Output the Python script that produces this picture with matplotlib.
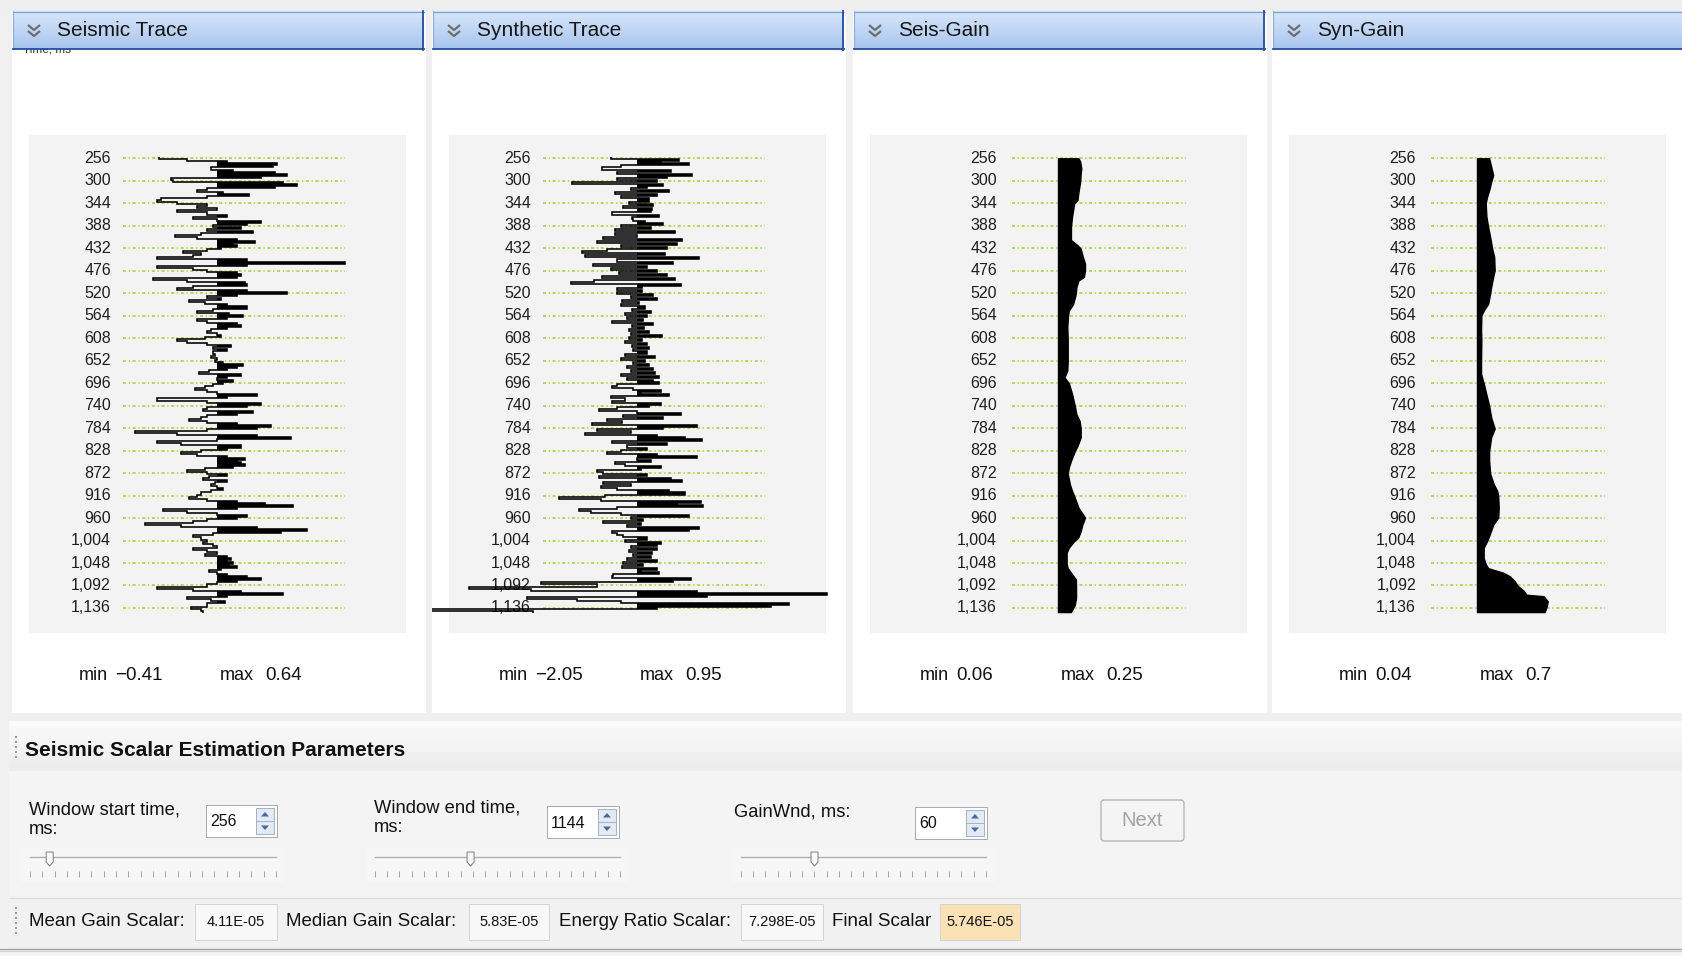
import numpy as np
import matplotlib
matplotlib.use("Agg")
import matplotlib.pyplot as plt
from matplotlib.colors import to_rgb
from matplotlib.patches import Rectangle, FancyBboxPatch, Polygon

plt.rcParams['font.family'] = ['Liberation Sans', 'DejaVu Sans']

# ---------------------------------------------------------------- data
SAMPLE_START_MS = 256
SAMPLE_STEP_MS = 4

seismic_trace = [
    -0.29, -0.15, 0.05, 0.30, 0.28, -0.03, 0.08, 0.29, 0.35, 0.22,
    -0.23, -0.22, 0.33, 0.40, 0.29, -0.05, -0.10, 0.03, 0.16, -0.05,
    -0.28, -0.30, -0.20, -0.05, -0.10, 0.00, -0.20, -0.05, 0.05, -0.12,
    0.00, 0.22, 0.15, -0.02, 0.12, -0.05, 0.18, -0.08, -0.21, -0.10,
    0.10, 0.19, 0.08, 0.10, 0.02, -0.05, -0.17, -0.08, -0.12, -0.30,
    0.15, 0.64, 0.15, -0.30, -0.12, -0.05, 0.10, 0.12, 0.10, -0.32,
    -0.15, 0.14, 0.15, -0.12, -0.20, 0.15, 0.35, 0.10, -0.05, 0.02,
    -0.14, -0.06, 0.05, 0.15, -0.02, -0.10, 0.06, 0.13, 0.05, -0.10,
    -0.05, 0.10, 0.12, 0.05, -0.03, -0.05, 0.00, 0.02, -0.06, -0.20,
    -0.15, -0.05, 0.07, -0.02, 0.05, -0.02, -0.01, -0.03, 0.00, -0.01,
    0.03, 0.13, 0.10, 0.05, -0.04, -0.09, 0.12, 0.05, 0.00, 0.08,
    0.03, -0.02, -0.06, -0.11, -0.05, 0.00, 0.20, 0.05, -0.30, -0.05,
    0.22, 0.15, -0.05, -0.07, 0.18, 0.10, -0.05, -0.08, -0.14, -0.05,
    0.10, 0.27, 0.20, -0.05, -0.41, -0.20, 0.20, 0.37, 0.00, -0.30,
    -0.18, 0.12, 0.05, -0.08, -0.18, -0.10, 0.05, 0.14, 0.10, 0.12,
    0.14, 0.08, -0.06, -0.15, -0.05, 0.05, -0.04, -0.07, 0.05, -0.01,
    -0.03, 0.00, 0.03, -0.03, -0.08, -0.10, -0.14, -0.05, 0.10, 0.24,
    0.38, 0.10, -0.27, -0.15, 0.00, 0.15, 0.10, -0.05, -0.12, -0.36,
    -0.18, 0.20, 0.45, 0.32, -0.02, -0.12, -0.08, -0.05, -0.07, -0.02,
    0.00, -0.12, -0.05, 0.00, -0.06, 0.05, 0.07, 0.05, 0.08, 0.06,
    0.10, 0.02, -0.04, 0.00, 0.05, 0.15, 0.22, 0.10, 0.00, -0.05,
    -0.30, -0.12, 0.12, 0.33, 0.05, -0.15, -0.03, 0.04, -0.05, -0.05,
    -0.13, -0.08, -0.07,
]

synthetic_trace = [
    -0.13, 0.21, 0.12, 0.26, -0.08, -0.175, 0.17, -0.10, 0.275, 0.15,
    -0.10, 0.10, -0.325, 0.13, 0.05, -0.03, 0.16, -0.11, 0.10, -0.08,
    0.06, 0.06, -0.04, 0.08, -0.07, 0.075, 0.07, -0.125, 0.11, -0.025,
    -0.02, 0.04, 0.13, -0.08, 0.07, -0.11, 0.19, -0.11, 0.00, -0.17,
    0.225, -0.20, 0.20, -0.08, 0.15, -0.15, -0.275, 0.14, -0.26, 0.31,
    -0.10, 0.18, -0.22, 0.05, -0.13, 0.10, -0.09, 0.15, -0.175, 0.19,
    -0.215, -0.33, 0.22, 0.025, -0.10, 0.025, -0.10, 0.08, -0.03, 0.10,
    -0.075, 0.01, -0.08, 0.04, -0.025, 0.07, -0.06, 0.05, -0.05, 0.03,
    -0.125, 0.08, -0.025, 0.035, -0.04, 0.06, -0.03, 0.125, -0.04, 0.025,
    -0.06, 0.05, -0.025, 0.06, -0.02, 0.05, -0.06, 0.09, -0.08, 0.04,
    -0.02, 0.06, -0.05, 0.08, -0.03, 0.09, -0.08, 0.11, -0.05, 0.08,
    0.11, -0.10, -0.125, -0.02, 0.12, 0.02, 0.16, -0.13, -0.06, -0.125,
    0.12, 0.06, -0.10, -0.19, 0.00, 0.22, -0.07, 0.13, -0.15, -0.075,
    -0.225, 0.30, 0.13, -0.20, -0.03, -0.26, 0.10, 0.24, 0.325, -0.125,
    0.15, -0.05, 0.05, -0.08, -0.15, 0.10, 0.30, 0.00, 0.07, -0.11,
    -0.06, 0.12, 0.02, -0.20, -0.17, 0.05, -0.19, 0.17, 0.225, -0.17,
    -0.03, -0.18, -0.10, 0.16, 0.24, -0.16, -0.39, -0.18, 0.32, 0.20,
    0.33, -0.10, -0.29, -0.23, -0.08, 0.26, -0.03, 0.03, -0.17, 0.02,
    -0.05, 0.31, 0.26, -0.125, -0.10, -0.07, 0.05, -0.06, 0.12, 0.10,
    -0.03, 0.10, -0.04, 0.075, -0.02, 0.07, -0.05, 0.10, -0.07, 0.03,
    -0.075, 0.10, 0.02, 0.11, -0.12, -0.125, 0.27, 0.18, -0.48, -0.20,
    -0.84, -0.53, 0.30, 0.95, 0.35, -0.55, -0.30, -0.08, 0.76, 0.67,
    0.10, -2.05, -0.52,
]

seis_gain_ms = [256, 262, 276, 285, 302, 321, 338, 344, 370, 390, 416, 426, 433,
                449, 462, 475, 488, 495, 508, 521, 541, 554, 564, 586, 609, 632,
                652, 671, 685, 696, 717, 740, 757, 770, 785, 802, 819, 829, 848,
                861, 873, 894, 907, 917, 940, 959, 973, 986, 999, 1005, 1018, 1028,
                1050, 1058, 1070, 1080, 1092, 1116, 1130, 1144]
seis_gain = [0.19, 0.205, 0.216, 0.21, 0.205, 0.19, 0.18, 0.15, 0.13, 0.12, 0.12, 0.18, 0.21,
             0.23, 0.25, 0.25, 0.24, 0.19, 0.17, 0.165, 0.14, 0.10, 0.093, 0.086, 0.09, 0.09,
             0.09, 0.086, 0.06, 0.10, 0.13, 0.155, 0.17, 0.20, 0.21, 0.21, 0.18, 0.155, 0.12,
             0.10, 0.09, 0.11, 0.13, 0.15, 0.19, 0.25, 0.225, 0.21, 0.185, 0.15, 0.10, 0.08,
             0.08, 0.09, 0.13, 0.165, 0.167, 0.167, 0.155, 0.12]

syn_gain_ms = [256, 272, 289, 302, 315, 331, 344, 370, 390, 410, 433, 449, 475, 488,
               508, 521, 541, 554, 564, 593, 609, 652, 678, 696, 724, 740, 763, 785,
               802, 829, 848, 873, 894, 907, 917, 940, 959, 973, 992, 1005, 1018, 1038,
               1050, 1058, 1067, 1074, 1084, 1092, 1102, 1110, 1113, 1123, 1133, 1144]
syn_gain = [0.12, 0.14, 0.16, 0.14, 0.125, 0.10, 0.086, 0.093, 0.11, 0.13, 0.15, 0.17, 0.175, 0.16,
            0.14, 0.13, 0.11, 0.066, 0.043, 0.04, 0.043, 0.04, 0.04, 0.066, 0.10, 0.12, 0.14, 0.175,
            0.14, 0.12, 0.12, 0.13, 0.166, 0.20, 0.21, 0.215, 0.21, 0.16, 0.126, 0.10, 0.066, 0.066,
            0.086, 0.11, 0.26, 0.325, 0.375, 0.40, 0.46, 0.49, 0.66, 0.70, 0.69, 0.67]

time_ticks = [256, 300, 344, 388, 432, 476, 520, 564, 608, 652, 696,
              740, 784, 828, 872, 916, 960, 1004, 1048, 1092, 1136]

panel_titles = ["Seismic Trace", "Synthetic Trace", "Seis-Gain", "Syn-Gain"]
param_labels = [["Window start time,", "ms:"], ["Window end time,", "ms:"], ["GainWnd, ms:"]]
param_values = ["256", "1144", "60"]
scalar_labels = ["Mean Gain Scalar:", "Median Gain Scalar:", "Energy Ratio Scalar:", "Final Scalar"]
scalar_values = ["4.11E-05", "5.83E-05", "7.298E-05", "5.746E-05"]

# ---------------------------------------------------------------- layout (pixels)
W, H, DPI = 1682, 956, 100
PT = 72.0 / DPI                       # points per pixel

HEADER_L = [13, 433, 854, 1273]
HEADER_W = 411
BODY_X = [(12, 426), (432, 846), (853, 1267), (1272, 1682)]
PLOT_TOP, PLOT_BOT = 135, 633
Y_REF, MS_REF, PX_PER_MS = 158.3, 256, 0.511
AMP_SCALE = [200, 200, 108, 101]      # pixels per amplitude unit
LABEL_OFF = [82, 82, 127, 127]
GRID_OFF = [94, 94, 142, 142]
GRID_END = 316
ZERO_OFF = 188

fig = plt.figure(figsize=(W / DPI, H / DPI), dpi=DPI, facecolor='#F0F0F0')
ui = fig.add_axes([0, 0, 1, 1])
ui.set_xlim(0, W)
ui.set_ylim(H, 0)
ui.axis('off')


def gradient(ax, x0, y0, x1, y1, c_top, c_bot, z=1):
    a, b = np.array(to_rgb(c_top)), np.array(to_rgb(c_bot))
    g = np.linspace(0, 1, 64)[:, None, None]
    ax.imshow(a * (1 - g) + b * g, extent=(x0, x1, y1, y0), aspect='auto',
              interpolation='bilinear', zorder=z)


def rect(x0, y0, x1, y1, fc, ec='none', lw=1.0, z=1):
    ui.add_patch(Rectangle((x0, y0), x1 - x0, y1 - y0, fc=fc, ec=ec, lw=lw * PT, zorder=z))


def grip(x, y0, n):
    for i in range(n):
        rect(x, y0 + i * 5, x + 2, y0 + i * 5 + 2, '#9A9A9A', z=3)


def fmt(v):
    txt = f"{abs(v):.2f}".rstrip('0').rstrip('.')
    return ("\u2212" if v < 0 else "") + txt


# ---------------------------------------------------------------- trace panels
rect(0, 0, W, 11, '#EFEFEF', z=0)
for i, title in enumerate(panel_titles):
    bx0, bx1 = BODY_X[i]
    hl = HEADER_L[i]
    rect(bx0, 11, bx1, 713, 'white', z=1)
    gl = hl + 16
    rect(gl, PLOT_TOP, gl + 377, PLOT_BOT, '#F3F3F3', z=1.5)
    if i == 0:
        ui.text(23, 55, "Time, ms", fontsize=8.5, color='#333333', va='bottom', ha='left', zorder=1.8)
    hr = min(hl + HEADER_W, W + 3)
    gradient(ui, hl, 11, hr, 49, '#D7E6FA', '#A8C5EF', z=2)
    ui.plot([hl, hr], [11.5, 11.5], color='#7DA0D8', lw=1.2 * PT, zorder=3)
    ui.plot([hl + 0.5, hl + 0.5], [11, 49], color='#8AACDF', lw=1.2 * PT, zorder=3)
    ui.plot([hl, hr], [48.8, 48.8], color='#254C9C', lw=1.8 * PT, zorder=3)
    ui.plot([hr - 0.8, hr - 0.8], [11, 49.5], color='#254C9C', lw=1.8 * PT, zorder=3)
    for dy in (0, 6):
        ui.plot([hl + 15, hl + 21, hl + 27], [25 + dy, 30 + dy, 25 + dy],
                color='#6E6E6E', lw=2.2 * PT, zorder=4, solid_capstyle='butt')
    ui.text(hl + 44, 30, title, fontsize=15, color='#151515', va='center', ha='left', zorder=4)

    # axes for the curve, in amplitude / milliseconds
    ax = fig.add_axes([bx0 / W, 1 - PLOT_BOT / H, (bx1 - bx0) / W, (PLOT_BOT - PLOT_TOP) / H])
    ax.set_facecolor('none')
    ax.axis('off')
    zero = gl + ZERO_OFF
    s = AMP_SCALE[i]
    ax.set_xlim((bx0 - zero) / s, (bx1 - zero) / s)
    ax.set_ylim(MS_REF + (PLOT_BOT - Y_REF) / PX_PER_MS, MS_REF + (PLOT_TOP - Y_REF) / PX_PER_MS)

    g0 = (gl + GRID_OFF[i] - zero) / s
    g1 = (gl + GRID_END - zero) / s
    ax.hlines(time_ticks, g0, g1, colors='#9CD23A', linewidth=1.1,
              linestyles=[(0, (2.0, 1.7, 0.9, 1.7))], zorder=2)
    lx = (gl + LABEL_OFF[i] - zero) / s
    for t in time_ticks:
        ax.text(lx, t, f"{t:,}", fontsize=11.5, color='#1E1E1E', ha='right', va='center', zorder=3)

    if i < 2:
        amp = np.array(seismic_trace if i == 0 else synthetic_trace)
        ms = SAMPLE_START_MS + SAMPLE_STEP_MS * np.arange(len(amp))
        edges = np.append(ms - SAMPLE_STEP_MS / 2, ms[-1] + SAMPLE_STEP_MS / 2)
        ax.stairs(np.clip(amp, 0, None), edges, orientation='horizontal', baseline=0,
                  fill=True, color='black', zorder=5)
        ax.stairs(amp, edges, orientation='horizontal', baseline=None,
                  color='black', lw=1.15, zorder=6)
    else:
        amp = np.array(seis_gain if i == 2 else syn_gain)
        ms = np.array(seis_gain_ms if i == 2 else syn_gain_ms)
        ax.fill_betweenx(ms, 0, amp, color='black', lw=1.0, edgecolor='black', zorder=5)

    ui.text(gl + 50, 675, "min", fontsize=13, color='#111111', va='center', ha='left', zorder=4)
    ui.text(gl + 86, 675, fmt(amp.min()), fontsize=13.5, color='#111111', va='center', ha='left', zorder=4)
    ui.text(gl + 191, 675, "max", fontsize=13, color='#111111', va='center', ha='left', zorder=4)
    ui.text(gl + 236, 675, fmt(amp.max()), fontsize=13.5, color='#111111', va='center', ha='left', zorder=4)

# ---------------------------------------------------------------- parameter section
gradient(ui, 9, 721, W, 771, '#FBFBFB', '#ECECEC', z=1)
grip(15, 736, 5)
ui.text(25, 750, "Seismic Scalar Estimation Parameters", fontsize=15, fontweight='bold',
        color='#111111', va='center', ha='left', zorder=4)
rect(9, 771, W, 896, '#F4F4F4', z=1)


def spinbox(x0, y0, x1, y1, text):
    rect(x0, y0, x1, y1, 'white', '#A9ABB0', 1.0, z=3)
    ui.text(x0 + 4, (y0 + y1) / 2 + 1, text, fontsize=11.5,
            color='#111111', va='center', ha='left', zorder=4)
    bx0, bx1 = x1 - 21, x1 - 3
    ym = (y0 + y1) / 2
    for ya, yb, up in ((y0 + 3, ym, True), (ym, y1 - 3, False)):
        rect(bx0, ya, bx1, yb, '#E3EAF4', '#A5B3C8', 1.0, z=4)
        cx, cy = (bx0 + bx1) / 2, (ya + yb) / 2
        if up:
            tri = [(cx - 4, cy + 2), (cx + 4, cy + 2), (cx, cy - 2.5)]
        else:
            tri = [(cx - 4, cy - 2), (cx + 4, cy - 2), (cx, cy + 2.5)]
        ui.add_patch(Polygon(tri, closed=True, fc='#4A68A8', ec='none', zorder=5))


def slider(x0, x1, frac):
    y = 858
    rect(x0 - 6, 848, x1 + 6, 882, '#F6F6F6', z=2)
    ui.plot([x0 + 3, x1 - 3], [y - 0.6, y - 0.6], color='#B0B0B0', lw=1.4 * PT, zorder=3)
    ui.plot([x0 + 3, x1 - 3], [y + 1.0, y + 1.0], color='#FFFFFF', lw=1.0 * PT, zorder=3)
    ui.vlines(np.linspace(x0 + 3, x1 - 3, 21), 871, 877, color='#A5A5A5', lw=1.0 * PT, zorder=3)
    tx = x0 + 3 + frac * (x1 - x0 - 6)
    thumb = [(tx - 3.5, 852), (tx + 3.5, 852), (tx + 3.5, 862), (tx, 866), (tx - 3.5, 862)]
    ui.add_patch(Polygon(thumb, closed=True, fc='#F9F9F9', ec='#808080', lw=1.0 * PT, zorder=5))


label_pos = [(29, 810), (374, 808), (734, 812)]
spin_pos = [(206, 805, 277, 837), (547, 806, 619, 838), (915, 807, 987, 839)]
slider_pos = [(27, 279, 0.08), (372, 623, 0.39), (738, 989, 0.30)]
for lab, (lx, ly), sp, sl, val in zip(param_labels, label_pos, spin_pos, slider_pos, param_values):
    for j, line in enumerate(lab):
        ui.text(lx, ly + 20 * j, line, fontsize=13.2, color='#111111',
                va='center', ha='left', zorder=4)
    spinbox(*sp, val)
    slider(*sl)

ui.add_patch(FancyBboxPatch((1101, 800), 83, 41, boxstyle='round,pad=0,rounding_size=3',
                            fc='#F4F4F4', ec='#ADADAD', lw=1.2 * PT, zorder=3))
ui.text(1142.5, 821, "Next", fontsize=14.5, color='#A3A3A3', va='center', ha='center', zorder=4)

# ---------------------------------------------------------------- scalar bar
rect(9, 898, W, 947, '#F1F1F1', z=1)
ui.plot([9, W], [898, 898], color='#DCDCDC', lw=1 * PT, zorder=2)
ui.plot([0, W], [948.5, 948.5], color='#9C9C9C', lw=1.2 * PT, zorder=2)
ui.plot([0, W], [951, 951], color='#D2D2D2', lw=1.2 * PT, zorder=2)
rect(0, 952, W, H, '#F4F4F4', z=1)
grip(15, 907, 6)
lab_x = [29, 286, 559, 832]
box_x = [(195, 277), (469, 549), (741, 823), (940, 1020)]
for k, (lab, val) in enumerate(zip(scalar_labels, scalar_values)):
    ui.text(lab_x[k], 922, lab, fontsize=13.5, color='#111111',
            va='center', ha='left', zorder=4)
    x0, x1 = box_x[k]
    fc = '#FBE2B6' if k == 3 else '#F8F8F8'
    rect(x0, 904, x1, 940, fc, '#D4D4D4', 1.0, z=3)
    ui.text((x0 + x1) / 2, 922, val, fontsize=10.5, color='#111111',
            va='center', ha='center', zorder=4)

ui.set_xlim(0, W)
ui.set_ylim(H, 0)
fig.savefig("out.png", dpi=DPI, facecolor=fig.get_facecolor())
